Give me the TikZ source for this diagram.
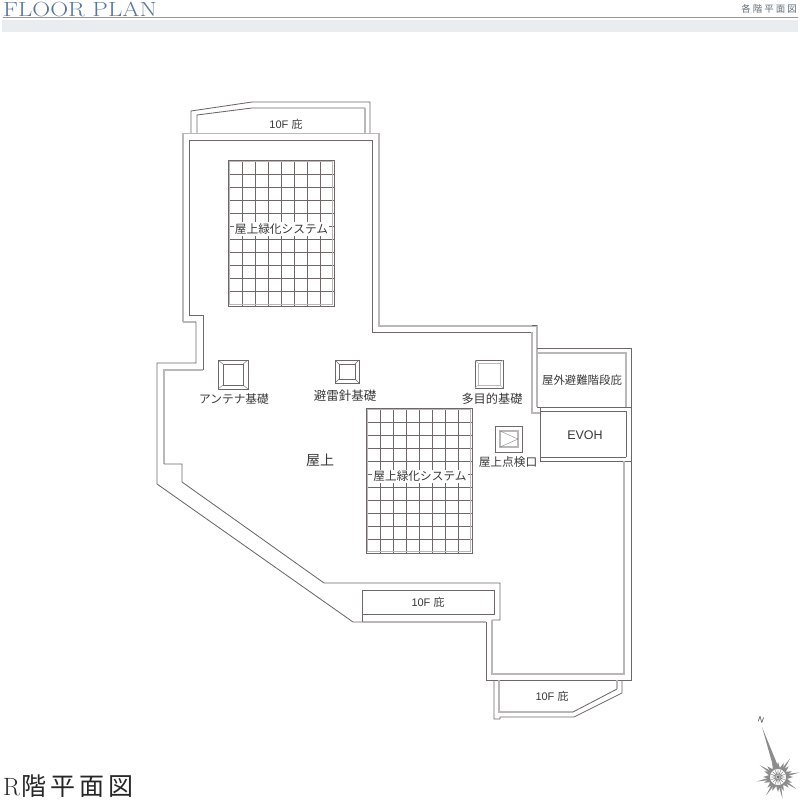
\documentclass[tikz,border=0pt]{standalone}
\usepackage{fontspec}
\setmainfont{Latin Modern Roman}
\newfontfamily\cjk{Noto Sans CJK JP}
\newfontfamily\latn{Liberation Sans}
\usetikzlibrary{shapes.geometric}
\definecolor{walldark}{HTML}{6E6767}
\definecolor{wallpale}{HTML}{B9B7B7}
\definecolor{titleblue}{HTML}{5B7699}
\definecolor{headgray}{HTML}{8A9AA9}
\definecolor{bandgray}{HTML}{E9EDF0}
\tikzset{
  dark/.style={draw=walldark,line width=0.85pt},
  pale/.style={draw=wallpale,line width=1.3pt},
  gridline/.style={draw=walldark,line width=0.6pt},
  lbl/.style={font=\cjk\fontsize{11.7}{14}\selectfont,text=black!78,inner sep=0.5pt},
  lblwhite/.style={lbl,fill=white,inner xsep=1pt,inner ysep=1.5pt}
}
\begin{document}
\begin{tikzpicture}[x=1pt,y=-1pt]
\useasboundingbox (0,0) rectangle (800,800);
% header
\fill [bandgray] (2,20) rectangle (798,32);
\draw [headgray,line width=0.8pt] (3,17) -- (798,17);
\node (title) [anchor=base west,inner sep=0pt,text=titleblue,font=\fontsize{20.5}{22}\selectfont] at (3,16.5) {\scalebox{1.21}[1]{FLOOR PLAN}};
\node (section) [anchor=base east,inner sep=0pt,text=headgray!70!black,font=\cjk\fontsize{9.5}{11}\selectfont] at (797,12.5) {各\hspace{2pt}階\hspace{2pt}平\hspace{2pt}面\hspace{2pt}図};
% top canopy
\draw [dark] (191,133) -- (191,111) -- (252,102) -- (370,102) -- (370,133);
\draw [dark] (197,133) -- (197,115) -- (252,108) -- (365,108); \draw [pale] (365,108) -- (365,133);
% outer wall
\draw [pale] (183,322) -- (183,133.5) -- (379,133.5) -- (379,326) -- (537,326) -- (537,407);
\draw [pale] (183,322) -- (196,322);
\draw [dark] (196,322) -- (196,363) -- (157,363) -- (157,484) -- (353,622) -- (363,622);
\draw [pale] (363,622) -- (486,622);
\draw [dark] (486,622) -- (486,680) -- (631,680) -- (631,461) -- (540,461);
% inner wall
\draw [dark] (203,370) -- (203,315) -- (189,315) -- (189,140) -- (372,140) -- (372,332) -- (532,332);
\draw [pale] (532,332) -- (532,413) -- (540,413);
\draw [pale] (203,370) -- (164,370) -- (164,464);
\draw [dark] (164,464) -- (182,464) -- (182,482) -- (324,583) -- (500,583) -- (500,620) -- (492,620);
\draw [pale] (492,620) -- (492,674) -- (624,674) -- (624,461);
\draw [dark] (532,325) -- (537,325);
% stair canopy and EV hall
\draw [dark] (537,348) -- (631,348) -- (631,461);
\draw [pale] (537,353) -- (626,353) -- (626,407);
\draw [dark] (537,407) -- (631,407);
\draw [dark] (540,407) -- (540,461);
\draw [dark] (626,457) -- (626,411) -- (540,411); \draw [dark] (540,457) -- (626,457);
% mid canopy
\draw [dark] (362,590) rectangle (494,614); \draw [dark] (362,614) -- (362,622);
% bottom canopy
\draw [dark] (494,680) -- (494,719) -- (500,719) -- (500,717) -- (574,717) -- (622,693) -- (622,680);
\draw [pale] (499,680) -- (499,712) -- (573,712);
\draw [dark] (573,712) -- (617,689); \draw [pale] (617,689) -- (617,680);
% upper green system
\draw [gridline] (242.3,160) -- (242.3,306); \draw [gridline] (255.3,160) -- (255.3,306); \draw [gridline] (268.3,160) -- (268.3,306); \draw [gridline] (281.3,160) -- (281.3,306);
\draw [gridline] (294.3,160) -- (294.3,306); \draw [gridline] (307.3,160) -- (307.3,306); \draw [gridline] (320.3,160) -- (320.3,306);
\draw [gridline] (228,174.3) -- (334,174.3); \draw [gridline] (228,187.3) -- (334,187.3); \draw [gridline] (228,200.3) -- (334,200.3); \draw [gridline] (228,213.3) -- (334,213.3); \draw [gridline] (228,226.3) -- (334,226.3);
\draw [gridline] (228,239.3) -- (334,239.3); \draw [gridline] (228,252.3) -- (334,252.3); \draw [gridline] (228,265.3) -- (334,265.3); \draw [gridline] (228,278.3) -- (334,278.3); \draw [gridline] (228,291.3) -- (334,291.3);
\draw [pale] (229.5,161.5) rectangle (332.5,304.5);
\draw [gridline] (228,160) rectangle (334,306);
\node (greenA) [lblwhite] at (281.5,229) {屋上緑化システム};
% lower green system
\draw [gridline] (380.3,408) -- (380.3,553); \draw [gridline] (393.3,408) -- (393.3,553); \draw [gridline] (406.3,408) -- (406.3,553); \draw [gridline] (419.3,408) -- (419.3,553);
\draw [gridline] (432.3,408) -- (432.3,553); \draw [gridline] (445.3,408) -- (445.3,553); \draw [gridline] (458.3,408) -- (458.3,553);
\draw [gridline] (366,422.3) -- (472,422.3); \draw [gridline] (366,435.3) -- (472,435.3); \draw [gridline] (366,448.3) -- (472,448.3); \draw [gridline] (366,461.3) -- (472,461.3); \draw [gridline] (366,474.3) -- (472,474.3);
\draw [gridline] (366,487.3) -- (472,487.3); \draw [gridline] (366,500.3) -- (472,500.3); \draw [gridline] (366,513.3) -- (472,513.3); \draw [gridline] (366,526.3) -- (472,526.3); \draw [gridline] (366,539.3) -- (472,539.3);
\draw [pale] (367.5,409.5) rectangle (470.5,551.5);
\draw [gridline] (366,408) rectangle (472,553);
\node (greenB) [lblwhite] at (420,476.5) {屋上緑化システム};
% antenna base
\draw [dark] (218,360) rectangle (248,389); \draw [dark] (223,364) rectangle (243,385);
\draw [dark,line width=0.4pt] (218,360) -- (223,364); \draw [dark,line width=0.4pt] (248,360) -- (243,364); \draw [dark,line width=0.4pt] (218,389) -- (223,385); \draw [dark,line width=0.4pt] (248,389) -- (243,385);
% lightning rod base
\draw [dark] (335,360) rectangle (359,383); \draw [dark] (339,364) rectangle (355,379);
\draw [dark,line width=0.4pt] (335,360) -- (339,364); \draw [dark,line width=0.4pt] (359,360) -- (355,364); \draw [dark,line width=0.4pt] (335,383) -- (339,379); \draw [dark,line width=0.4pt] (359,383) -- (355,379);
% multi purpose base
\draw [dark] (475,360) rectangle (503,388); \draw [pale,line width=0.8pt] (478,363) rectangle (500,385);
\draw [pale,line width=0.4pt] (475,360) -- (478,363); \draw [pale,line width=0.4pt] (503,360) -- (500,363); \draw [pale,line width=0.4pt] (475,388) -- (478,385); \draw [pale,line width=0.4pt] (503,388) -- (500,385);
% roof hatch
\draw [dark] (495,426) rectangle (522,452); \draw [pale] (500,431) rectangle (518,447);
\draw [gridline,line width=0.3pt] (500,431) -- (518,439) -- (500,447);
% labels
\node (canopyA) [lbl,font=\latn\fontsize{11}{13}\selectfont] at (286,124) {10F {\cjk 庇}};
\node (canopyB) [lbl,font=\latn\fontsize{11}{13}\selectfont] at (428,602) {10F {\cjk 庇}};
\node (canopyC) [lbl,font=\latn\fontsize{11}{13}\selectfont] at (552,696) {10F {\cjk 庇}};
\node (antenna) [lbl] at (234,399) {アンテナ基礎};
\node (rodbase) [lbl,font=\cjk\fontsize{12.5}{14}\selectfont] at (345,396) {避雷針基礎};
\node (multi) [lbl,font=\cjk\fontsize{12.2}{14}\selectfont] at (492,399) {多目的基礎};
\node (roof) [lbl,font=\cjk\fontsize{14}{16}\selectfont] at (320,460) {屋上};
\node (hatch) [lbl] at (508,462) {屋上点検口};
\node (stair) [lbl,font=\cjk\fontsize{11.4}{14}\selectfont] at (582,380) {屋外避難階段庇};
\node (evoh) [lbl,font=\latn\fontsize{12.5}{14}\selectfont] at (585,435) {EVOH};
\node (floorname) [anchor=base west,inner sep=0pt,text=black!85,font=\fontsize{25}{28}\selectfont] at (3,795) {R{\cjk\hspace{1pt}階\hspace{4pt}平\hspace{4pt}面\hspace{4pt}図}};
% compass
\fill [black!45] (762,727) -- (780,771) -- (775,773) -- cycle;
\node (north) [inner sep=0pt,rotate=-20,text=black!75,font=\latn\fontsize{8}{9}\selectfont] at (761,720) {N};
\node (starlong) [star,star points=8,star point ratio=5,minimum size=44pt,inner sep=0pt,fill=black!45,rotate=12] at (778,777) {};
\node (starshort) [star,star points=16,star point ratio=1.6,minimum size=30pt,inner sep=0pt,fill=black!45] at (778,777) {};
\node (starcore) [circle,minimum size=16pt,inner sep=0pt,fill=white] at (778,777) {};
\node (starrays) [star,star points=16,star point ratio=4,minimum size=16pt,inner sep=0pt,draw=black!45,line width=0.25pt] at (778,777) {};
\node (stareye) [circle,minimum size=3.5pt,inner sep=0pt,fill=black!55] at (778,777) {};
\end{tikzpicture}
\end{document}
